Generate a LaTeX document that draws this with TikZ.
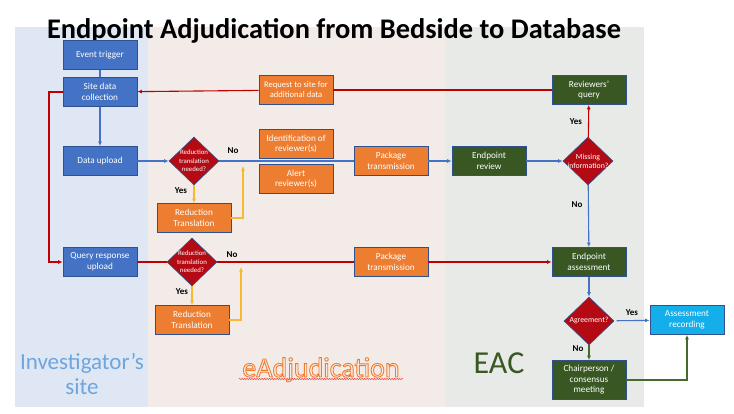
\documentclass[tikz,border=0pt]{standalone}
\usepackage{fontspec}
\setmainfont{Carlito}
\usetikzlibrary{shapes.geometric, arrows.meta, decorations.pathmorphing}

\definecolor{laneblue}{RGB}{222,231,243}
\definecolor{lanepink}{RGB}{243,235,232}
\definecolor{lanegray}{RGB}{232,234,232}
\definecolor{boxblue}{RGB}{68,114,196}
\definecolor{boxedge}{RGB}{47,82,143}
\definecolor{boxorange}{RGB}{237,125,49}
\definecolor{boxgreen}{RGB}{56,87,35}
\definecolor{boxred}{RGB}{180,10,20}
\definecolor{boxcyan}{RGB}{20,175,235}
\definecolor{lineyellow}{RGB}{247,185,50}
\definecolor{linegreen}{RGB}{70,105,45}
\definecolor{linered}{RGB}{192,0,0}
\definecolor{sitetext}{RGB}{110,165,222}
\definecolor{peach}{RGB}{252,236,225}

% outlined text (fill + orange stroke)
\newcommand\outlinetext[1]{\textcolor{peach}{\special{pdf:literal direct 2 Tr 0.9 w 0.93 0.49 0.19 RG}#1\special{pdf:literal direct 0 Tr}}}

\begin{document}
\begin{tikzpicture}[x=1pt, y=-1pt, >={Latex[length=4.5pt,width=4pt]},
    box/.style={draw=boxedge, line width=0.8pt, text=white, minimum width=74pt,
        minimum height=29pt, align=center, inner sep=1pt,
        font=\fontsize{9.2}{10.5}\selectfont},
    bluebox/.style={box, fill=boxblue},
    orangebox/.style={box, fill=boxorange},
    greenbox/.style={box, fill=boxgreen},
    choice/.style={diamond, aspect=1, draw=boxedge, line width=0.6pt, fill=boxred,
        text=white, minimum width=50pt, minimum height=48pt, inner sep=-5pt,
        align=center, font=\fontsize{6.8}{8.6}\selectfont},
    tag/.style={font=\fontsize{9}{10}\selectfont\bfseries},
    blueline/.style={draw=boxblue, line width=1.1pt},
    redline/.style={draw=linered, line width=1.1pt},
    yellowline/.style={draw=lineyellow, line width=1.1pt},
    greenline/.style={draw=linegreen, line width=1.1pt}]
    \useasboundingbox (0,0) rectangle (734,413);

    % Lanes
    \fill[laneblue] (15,27) rectangle (148,407);
    \fill[lanepink] (148,27) rectangle (445,407);
    \fill[lanegray] (445,27) rectangle (644,407);
    \node[font=\fontsize{28.4}{30}\selectfont\bfseries, anchor=base] (title) at (334,38)
        {Endpoint Adjudication from Bedside to Database};
    \node[font=\fontsize{23}{25}\selectfont, text=sitetext, align=center] (site) at (82,374)
        {Investigator’s\\site};
    \node[font=\fontsize{28}{30}\selectfont, anchor=base] (eadj) at (321,377)
        {\outlinetext{eAdjudication}};
    \draw[red!80, line width=0.4pt, decorate,
        decoration={snake, amplitude=0.7pt, segment length=2.5pt}]
        ([yshift=-2pt]eadj.base west) -- ([yshift=-2pt]eadj.base east);
    \node[font=\fontsize{32}{34}\selectfont, text=boxgreen] (eac) at (499,363) {EAC};

    % Investigator's site
    \node[bluebox] (evt) at (100,55) {Event trigger};
    \node[bluebox] (sdc) at (100,92) {Site data\\collection};
    \node[bluebox] (dup) at (100,161) {Data upload};
    \node[bluebox] (qru) at (100,262) {Query response\\upload};

    % eAdjudication
    \node[choice] (rtn1) at (194,161) {Reduction\\translation\\needed?};
    \node[orangebox] (red1) at (194,218) {Reduction\\Translation};
    \node[choice] (rtn2) at (192,262) {Reduction\\translation\\needed?};
    \node[orangebox] (red2) at (192,320) {Reduction\\Translation};
    \node[orangebox, font=\fontsize{8.6}{10}\selectfont] (req) at (296,90)
        {Request to site for\\additional data};
    \node[orangebox] (idr) at (296,144) {Identification of\\reviewer(s)};
    \node[orangebox] (alr) at (296,179) {Alert\\reviewer(s)};
    \node[orangebox] (pkg1) at (391,161) {Package\\transmission};
    \node[orangebox] (pkg2) at (391,262) {Package\\transmission};

    % EAC
    \node[greenbox] (rvq) at (589,90) {Reviewers’\\query};
    \node[greenbox] (epr) at (489,161) {Endpoint\\review};
    \node[choice, font=\fontsize{7.8}{9}\selectfont] (mis) at (588,161) {Missing\\information?};
    \node[greenbox] (epa) at (589,262) {Endpoint\\assessment};
    \node[choice, font=\fontsize{7.8}{9}\selectfont] (agr) at (589,321) {Agreement?};
    \node[box, fill=boxcyan] (asr) at (687,320) {Assessment\\recording};
    \node[greenbox, minimum height=39pt] (chp) at (589,380) {Chairperson /\\consensus\\meeting};

    % first pass
    \draw[blueline] (evt) -- (sdc);
    \draw[blueline, ->] (sdc) -- (dup);
    \draw[blueline, ->] (dup) -- (rtn1);
    \draw[blueline] (rtn1) -- (pkg1);
    \node[tag] (no1) at (233,151) {No};
    \draw[yellowline, ->] (rtn1) -- (red1);
    \node[tag] (yes1) at (181,191) {Yes};
    \coordinate (up1) at (243,166);
    \draw[yellowline, ->] (red1.east) -| (up1);
    \draw[blueline, ->] (pkg1) -- (epr);
    \draw[blueline, ->] (epr) -- (mis);
    \draw[redline, ->] (mis) -- (rvq);
    \node[tag] (yes2) at (576,122) {Yes};
    \draw[redline] (rvq) -- (req);
    \draw[redline, ->] (req) -- (sdc);
    \draw[blueline, ->] (mis) -- (epa);
    \node[tag] (no2) at (577,205) {No};

    % query loop
    \coordinate (loop) at (49,92);
    \draw[redline, ->] (sdc.west) -- (loop) |- (qru.west);
    \draw[redline] (qru) -- (rtn2);
    \draw[redline] (rtn2) -- (pkg2);
    \node[tag] (no3) at (232,255) {No};
    \draw[yellowline, ->] (rtn2) -- (red2);
    \node[tag] (yes3) at (182,292) {Yes};
    \coordinate (up2) at (241,267);
    \draw[yellowline, ->] (red2.east) -| (up2);
    \draw[redline, ->] (pkg2) -- (epa);

    % assessment
    \draw[blueline, ->] (epa) -- (agr);
    \draw[blueline, ->, shorten <=2.5pt] (agr) -- (asr);
    \node[tag] (yes4) at (632,313) {Yes};
    \draw[greenline, ->] (agr) -- (chp);
    \node[tag] (no4) at (578,349) {No};
    \draw[greenline, ->] (chp.east) -| (asr.south);
\end{tikzpicture}
\end{document}
